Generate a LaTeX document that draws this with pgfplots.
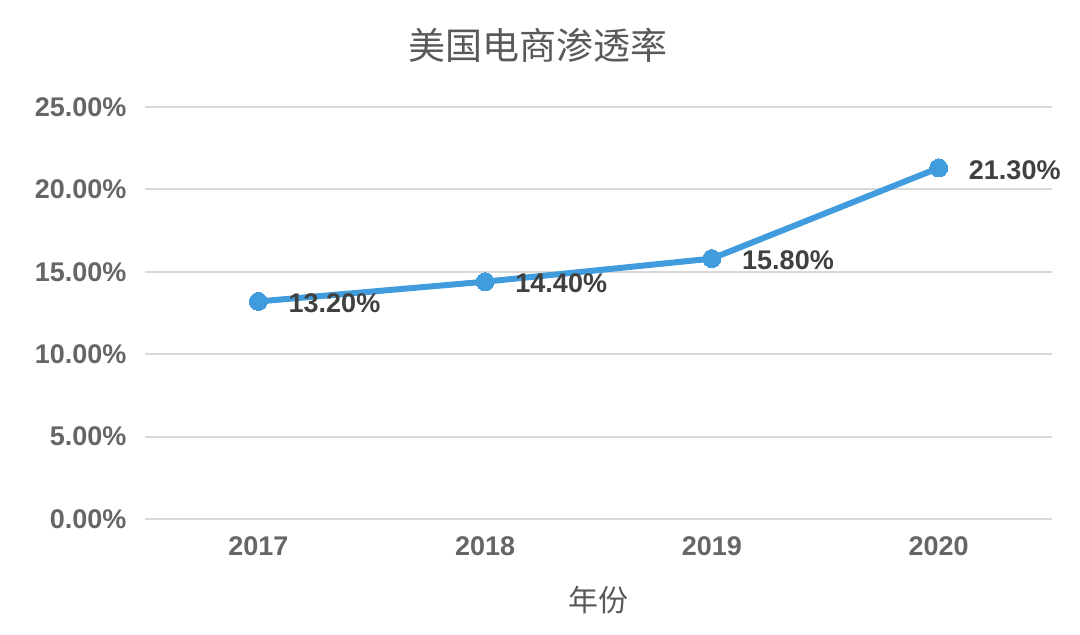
\documentclass[border=0pt]{standalone}
\usepackage{pgfplots}
\pgfplotsset{compat=1.18}
\usepackage{fontspec}
\setmainfont{Liberation Sans}
\newfontfamily\cjk{Noto Sans CJK SC}
\definecolor{linecol}{HTML}{409CDC}
\definecolor{gridcol}{HTML}{D9D9D9}
\definecolor{tickcol}{HTML}{666666}
\definecolor{labcol}{HTML}{404040}
\definecolor{titlecol}{HTML}{595959}
\begin{document}
\begin{tikzpicture}
\useasboundingbox (0pt,0pt) rectangle (1080pt,635pt);
\begin{axis}[
  at={(145pt,116pt)}, anchor=south west,
  scale only axis, width=907pt, height=412pt,
  xmin=-0.5, xmax=3.5, ymin=0, ymax=25,
  xtick={0,1,2,3}, xticklabels={2017,2018,2019,2020},
  ytick={0,5,10,15,20,25},
  yticklabel={\pgfmathprintnumber[fixed,fixed zerofill,precision=2]{\tick}\%},
  /pgf/number format/assume math mode=true,
  axis line style={draw=none},
  major tick length=0pt,
  ymajorgrids, grid style={gridcol, line width=2pt},
  tick label style={font=\fontsize{27}{32}\selectfont\bfseries, text=tickcol},
  yticklabel style={xshift=-15pt},
  xticklabel style={yshift=-14pt},
  clip=false,
]
\addplot[linecol, line width=6pt, mark=*, mark size=9pt, mark options={fill=linecol, draw=linecol, line width=0pt},
  nodes near coords={\pgfmathprintnumber[fixed,fixed zerofill,precision=2]{\pgfplotspointmeta}\%},
  point meta=y,
  every node near coord/.style={anchor=west, xshift=27pt, yshift=-2pt, font=\fontsize{27}{32}\selectfont\bfseries, text=labcol},
] coordinates {(0,13.2) (1,14.4) (2,15.8) (3,21.3)};
\end{axis}
\node[font=\cjk\fontsize{37}{42}\selectfont, text=titlecol] at (538pt,590pt) {美国电商渗透率};
\node[font=\cjk\fontsize{30}{35}\selectfont, text=titlecol] at (598pt,35pt) {年份};
\end{tikzpicture}
\end{document}
